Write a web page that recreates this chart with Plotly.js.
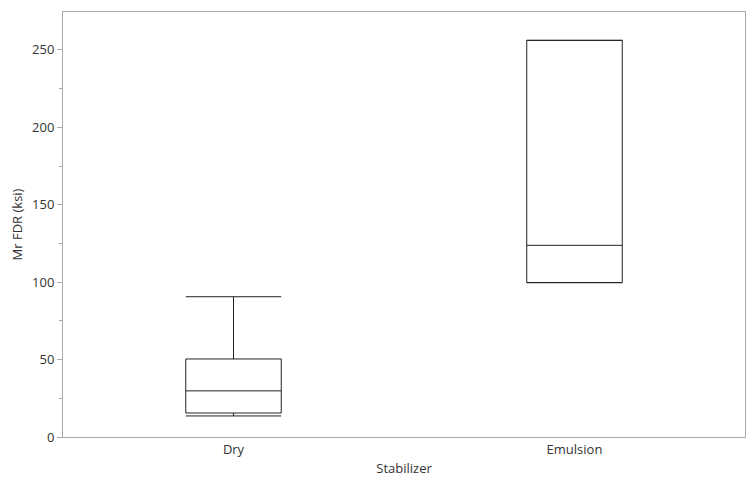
<!DOCTYPE html>
<html>
<head>
<meta charset="utf-8">
<script src="https://cdn.plot.ly/plotly-3.0.1.min.js"></script>
<style>html,body{margin:0;padding:0;background:#fff;}#chart{width:746px;height:477px;}</style>
</head>
<body>
<div id="chart"></div>
<script>
const categories = ['Dry', 'Emulsion'];
const lowerFence = [13.6, 99.7];
const q1Values = [15.5, 99.7];
const medianValues = [29.8, 123.8];
const q3Values = [50.4, 256.2];
const upperFence = [90.6, 256.2];
const yTicks = [0, 50, 100, 150, 200, 250];

const trace = {
  type: 'box',
  x: categories,
  lowerfence: lowerFence,
  q1: q1Values,
  median: medianValues,
  q3: q3Values,
  upperfence: upperFence,
  width: 0.28,
  whiskerwidth: 1,
  fillcolor: 'rgba(0,0,0,0)',
  line: {color: '#222', width: 1},
  boxpoints: false,
  hoverinfo: 'none',
  showlegend: false
};

const layout = {
  width: 746, height: 477,
  margin: {l: 63, r: 1, t: 12, b: 40},
  paper_bgcolor: '#fff', plot_bgcolor: '#fff',
  font: {family: 'Open Sans, Noto Sans, sans-serif', size: 13, color: '#333'},
  xaxis: {
    type: 'category',
    range: [-0.5, 1.5],
    showline: true, linecolor: '#aaa', linewidth: 1, mirror: true,
    ticks: '', showgrid: false, zeroline: false,
    tickfont: {size: 13, color: '#333'},
    title: {text: 'Stabilizer', font: {size: 13, color: '#333'}, standoff: 7}
  },
  yaxis: {
    range: [0, 274.5],
    tickvals: yTicks,
    showline: true, linecolor: '#aaa', linewidth: 1, mirror: true,
    ticks: 'outside', ticklen: 5, tickcolor: '#aaa',
    minor: {dtick: 25, ticks: 'outside', ticklen: 3, tickcolor: '#aaa', showgrid: false},
    showgrid: false, zeroline: false,
    tickfont: {size: 13, color: '#333'},
    title: {text: 'Mr FDR (ksi)', font: {size: 13, color: '#333'}, standoff: 6}
  }
};

Plotly.newPlot('chart', [trace], layout, {displayModeBar: false, staticPlot: true});
</script>
</body>
</html>
